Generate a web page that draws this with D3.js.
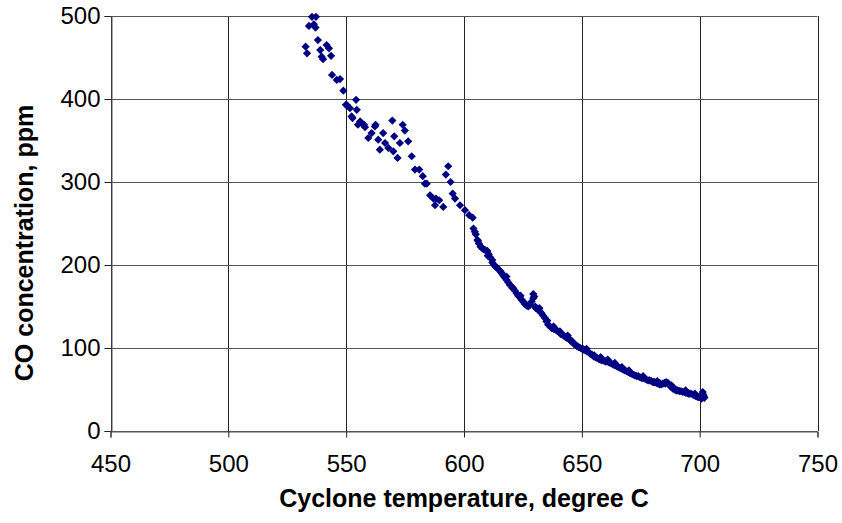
<!DOCTYPE html>
<html><head><meta charset="utf-8">
<script src="https://cdn.jsdelivr.net/npm/d3@7"></script>
<style>body{margin:0;background:#fff}svg{display:block;font-family:"Liberation Sans",Arial,sans-serif}</style>
</head><body><svg id="c" width="842" height="523"></svg>
<script>
const xTicks = [450, 500, 550, 600, 650, 700, 750];
const yTicks = [0, 100, 200, 300, 400, 500];
const xTitle = "Cyclone temperature, degree C";
const yTitle = "CO concentration, ppm";
// Cyclone temperature (degree C), 10 values per line
const temperature = [
 535.5,537.2,536.3,534.2,537,538,532.8,533.4,539,541.7,
 542.7,539.6,540.2,543.6,544,546,547.4,548.8,550.2,551.6,
 554.2,554.5,552.3,549.9,552.7,555.9,556.6,557.6,562.5,569.6,
 574,574.9,560.8,559.4,565.7,570.4,563.6,566.5,572.8,576.3,
 564.3,567.9,570,571.8,577.8,579.2,581,582.5,584.2,585.6,
 588.1,587.7,591.2,593.3,592.3,594.3,595.2,596.2,598.3,600.4,
 602.2,603.7,562.2,558,555,589.5,587,583.4,
 604,604.6,605,605.7,606.3,607,607.6,608.2,609,609.9,
 610.5,611.2,612,612.7,613.4,614,614.5,615.3,616,616.7,
 617.3,618.1,618.8,619.5,620.2,620.9,621.6,622.3,623,623.7,
 624.4,625.1,625.8,626.6,627.3,628,628.7,629.4,629.4,629.8,
 630.2,630.8,631.5,632.2,632.9,633.6,634.3,635,635.7,636.5,
 637.2,638,638.8,639.5,640.3,641,641.7,642.4,643.1,643.8,
 644.5,645.2,645.9,646.6,647.3,648,648.7,649.4,650.1,650.8,
 651.5,652.2,652.9,653.6,654.3,655,655.7,656.4,657.1,657.8,
 658.5,659.2,659.9,660.6,661.3,662,662.7,663.4,664.1,664.8,
 665.5,666.2,666.9,667.6,668.3,669,669.7,670.4,671.1,671.8,
 672.5,673.2,673.9,674.6,675.3,676,676.7,677.4,678.1,678.8,
 679.5,680.2,680.9,681.6,682.3,683,683.7,684.4,685.1,685.8,
 686.5,687.2,687.9,688.6,689.3,690,690.7,691.4,692.1,692.8,
 693.5,694.2,694.9,695.6,696.3,697,697.7,698.4,699.1,699.8,
 700.5,701.2,701.5,701.3,702,700.8,701.8,610.1,615.8,620.6,
 625.4,630.5,635.3,640.7,645.6,650.4,655.3,660.2,665.1,670.7,
 675.6,680.5,685.4,690.3,695.2,699.5,
 606,612,618,624,632,638,644,652,658,664,
 670,676,682,688,694,698,689,683,667,661
];
// CO concentration (ppm), same layout
const co = [
 499,499,490,488,486,471,463,455,459,465,
 461,451,448,452,429,423,424,410,393,389,
 399,387,379,393,377,373,371,369,369,374,
 369,362,359,353,359,355,351,347,347,349,
 339,341,337,329,331,315,315,307,298,284,
 280,272,270,319,309,300,286,280,272,266,
 260,257,367,366,369,278,280,298,
 244,240,237,230,226,222,221,219,218,217,
 213,209,203,200,198,197,195,193,190,187,
 185,182,179,176,174,172,169,166,163,161,
 158,156,153,151,150,152,156,160,165,162,
 150,148,146,144,142,139,136,132,128,126,
 124,123,122,121,119,117,116,115,113,112,
 111,109,107,105,104,102,101,100,99,98,
 97,96,95,93,92,90,89,88,87,86,
 85,85,84,84,83,82,81,80,79,78,
 77,76,75,74,73,72,71,70,69,68,
 67,66,66,65,64,64,63,62,61,61,
 60,59,59,58,57,56,56,57,58,59,
 58,55,53,51,50,49,49,48,48,47,
 47,46,46,45,45,44,43,42,41,41,
 41,41,44,47,40,39,42,211,191,172,
 155,148,133,120,109,99,91,84,78,70,
 64,59,57,49,45,41,
 229,206,186,163,148,126,115,99,89,82,
 73,66,60,55,49,45,52,58,77,86
];

const L = 110.5, R = 817.5, T = 16, B = 431;
const svg = d3.select("#c");
const x = d3.scaleLinear().domain([450, 750]).range([L, R]);
const y = d3.scaleLinear().domain([0, 500]).range([B, T]);
const px = v => Math.round(v) + 0.5;

// gridlines
const g = svg.append("g");
g.selectAll("line.v").data(xTicks).enter().append("line")
  .attr("x1", d => px(x(d))).attr("x2", d => px(x(d)))
  .attr("y1", T).attr("y2", B).attr("stroke", "#222").attr("stroke-width", 1);
g.selectAll("line.h").data(yTicks).enter().append("line")
  .attr("x1", L).attr("x2", R)
  .attr("y1", d => px(y(d))).attr("y2", d => px(y(d)))
  .attr("stroke", "#555").attr("stroke-width", 1);

// axes
const xAxis = svg.append("g").attr("transform", `translate(0,${px(B)})`)
  .call(d3.axisBottom(x).tickValues(xTicks).tickSize(6).tickPadding(17).tickFormat(d3.format("d")));
const yAxis = svg.append("g").attr("transform", `translate(${px(L)},0)`)
  .call(d3.axisLeft(y).tickValues(yTicks).tickSize(7).tickPadding(4).tickFormat(d3.format("d")));
[xAxis, yAxis].forEach(a => {
  a.select(".domain").attr("stroke", "#555");
  a.selectAll(".tick line").attr("stroke", "#222");
  a.selectAll("text").attr("font-size", 24).attr("fill", "#000")
    .attr("font-family", "'Liberation Sans', Arial, sans-serif");
});

// points
const diamond = "M0,-4.1L4.1,0L0,4.1L-4.1,0Z";
svg.append("g").selectAll("path").data(temperature.map((t, i) => [t, co[i]])).enter()
  .append("path").attr("d", diamond)
  .attr("transform", d => `translate(${x(d[0])},${y(d[1])})`)
  .attr("fill", "#000080");

// titles
svg.append("text").attr("x", (L + R) / 2).attr("y", 507).attr("text-anchor", "middle")
  .attr("font-size", 25).attr("font-weight", "bold").text(xTitle);
svg.append("text").attr("transform", `translate(33,243) rotate(-90)`)
  .attr("text-anchor", "middle").attr("font-size", 25).attr("font-weight", "bold").text(yTitle);
</script></body></html>
